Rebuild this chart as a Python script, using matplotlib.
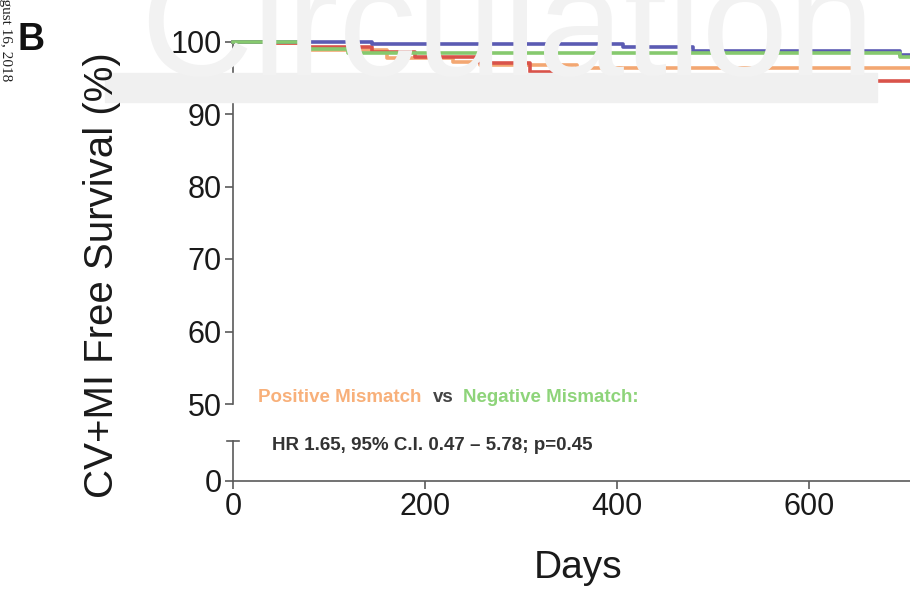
import matplotlib
matplotlib.use("Agg")
import matplotlib.pyplot as plt
from matplotlib.lines import Line2D
from matplotlib.patches import Rectangle

plt.rcParams['font.family'] = ['Liberation Sans', 'DejaVu Sans']

# ---- data (Kaplan-Meier style step curves, days vs % free survival) ----
blue_t = [0, 145, 406, 479, 695, 705]
blue_v = [100, 99.6, 99.3, 98.7, 98.1, 98.1]

green_t = [0, 77, 120, 695, 705]
green_v = [100, 98.9, 98.4, 97.9, 97.9]

orange_t = [0, 35, 77, 160, 229, 257, 358, 705]
orange_v = [100, 99.8, 98.8, 97.7, 97.2, 96.7, 96.3, 96.3]

red_t = [0, 35, 77, 145, 190, 257, 309, 353, 384, 538, 705]
red_v = [100, 99.8, 99.2, 98.6, 97.9, 97.0, 95.8, 94.9, 94.7, 94.5, 94.5]

xticks = [0, 200, 400, 600]
yticks_top = [50, 60, 70, 80, 90, 100]
yticks_bottom = [0]

W, H = 910, 590
fig = plt.figure(figsize=(W / 100, H / 100), dpi=100)

def fx(px):
    return px / W

def fy(py):
    return 1 - py / H

# background watermark + gray band
fig.patches.append(Rectangle((fx(105), fy(102)), fx(877) - fx(105), fy(73) - fy(102),
                             transform=fig.transFigure, color='#f0f0f0', zorder=0))
fig.text(fx(140), fy(75), "Circulation", fontsize=112, color='#f2f2f2',
         ha='left', va='baseline', zorder=0)

spine_c = '#5a5a5a'
x0_px, x1_px = 233, 910
xmax = (x1_px - x0_px) / 0.96

# top axes: 50..100
ax = fig.add_axes([fx(x0_px), fy(404), fx(x1_px) - fx(x0_px), fy(41.5) - fy(404)])
ax.patch.set_alpha(0)
ax.set_xlim(0, xmax)
ax.set_ylim(50, 100)
ax.set_yticks(yticks_top)
ax.set_yticklabels([str(v) for v in yticks_top])
ax.set_xticks([])
for s in ['top', 'right', 'bottom']:
    ax.spines[s].set_visible(False)
ax.spines['left'].set_color(spine_c)
ax.spines['left'].set_linewidth(1.2)
ax.tick_params(axis='y', length=6, width=1.2, color=spine_c, labelsize=22,
               labelcolor='#1a1a1a', pad=2)

lw = 2.6
ax.step(orange_t, orange_v, where='post', color='#f3a772', lw=lw, clip_on=False, zorder=3)
ax.step(red_t, red_v, where='post', color='#d9534a', lw=lw, clip_on=False, zorder=3)
ax.step(blue_t, blue_v, where='post', color='#5b5bb3', lw=lw, clip_on=False, zorder=4)
ax.step(green_t, green_v, where='post', color='#86c96e', lw=lw, clip_on=False, zorder=5)

# bottom axes: 0
axb = fig.add_axes([fx(x0_px), fy(481), fx(x1_px) - fx(x0_px), fy(441) - fy(481)])
axb.patch.set_alpha(0)
axb.set_xlim(0, xmax)
axb.set_ylim(0, 1)
axb.set_yticks(yticks_bottom)
axb.set_yticklabels(['0'])
axb.set_xticks(xticks)
axb.set_xticklabels([str(v) for v in xticks])
for s in ['top', 'right']:
    axb.spines[s].set_visible(False)
for s in ['left', 'bottom']:
    axb.spines[s].set_color(spine_c)
    axb.spines[s].set_linewidth(1.2)
axb.tick_params(axis='both', length=6, width=1.2, color=spine_c, labelsize=22,
                labelcolor='#1a1a1a', pad=2)

# axis labels
fig.text(fx(578), fy(568), "Days", fontsize=28, color='#1a1a1a', ha='center', va='center')
fig.text(fx(102), fy(275), "CV+MI Free Survival (%)", rotation=90, fontsize=29,
         color='#1a1a1a', ha='center', va='center')

# cap of the broken axis
fig.add_artist(Line2D([fx(x0_px - 6), fx(x0_px + 6)], [fy(441), fy(441)],
                      color=spine_c, lw=1.2, transform=fig.transFigure))

# panel letter
fig.text(fx(18), fy(40), "B", fontsize=27, fontweight='bold', color='#111111',
         ha='left', va='center')
# margin stamp
fig.text(fx(-1), fy(-20), "August 16, 2018", rotation=-90, fontsize=11,
         family='Liberation Serif', color='#222222', ha='left', va='top')

# annotation
fs = 13.5
fig.text(fx(258), fy(398), "Positive Mismatch", fontsize=fs, fontweight='bold',
         color='#f8b07a', ha='left', va='center')
fig.text(fx(433), fy(398), "vs", fontsize=fs, fontweight='bold', color='#444444',
         ha='left', va='center')
fig.text(fx(463), fy(398), "Negative Mismatch:", fontsize=fs, fontweight='bold',
         color='#8ed47a', ha='left', va='center')
fig.text(fx(272), fy(446), "HR 1.65, 95% C.I. 0.47 \u2013 5.78; p=0.45", fontsize=fs,
         fontweight='bold', color='#333333', ha='left', va='center')

fig.savefig("out.png", dpi=100)
